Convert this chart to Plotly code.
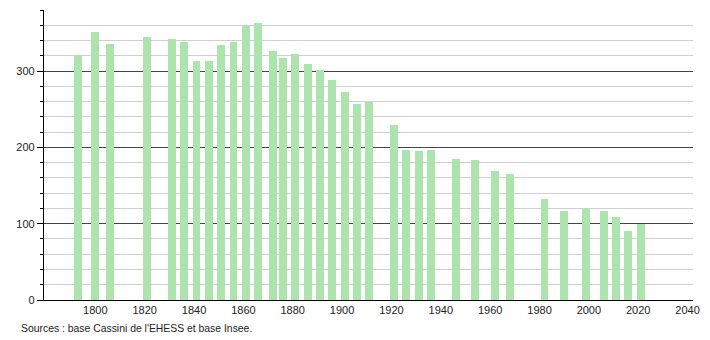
import plotly.graph_objects as go

years = [1793, 1800, 1806, 1821, 1831, 1836, 1841, 1846, 1851, 1856, 1861, 1866,
         1872, 1876, 1881, 1886, 1891, 1896, 1901, 1906, 1911, 1921, 1926, 1931,
         1936, 1946, 1954, 1962, 1968, 1982, 1990, 1999, 2006, 2011, 2016, 2021]
population = [321, 351, 335, 344, 342, 338, 313, 313, 334, 338, 359, 363,
              326, 317, 322, 309, 301, 288, 273, 257, 260, 229, 197, 195,
              196, 185, 184, 169, 165, 132, 117, 119, 116, 109, 91, 100]
x_ticks = [1800, 1820, 1840, 1860, 1880, 1900, 1920, 1940, 1960, 1980, 2000, 2020, 2040]
y_ticks = [0, 100, 200, 300]
source_text = "Sources : base Cassini de l'EHESS et base Insee."

fig = go.Figure()
fig.add_trace(go.Bar(
    x=years, y=population, width=3.2,
    marker=dict(color="#ade3ad", line=dict(width=0)),
    hoverinfo="x+y",
))

font = dict(family="Liberation Sans, Arial, sans-serif", size=11, color="#222")
fig.update_layout(
    width=710, height=340,
    margin=dict(l=44, r=10, t=10, b=40),
    paper_bgcolor="white", plot_bgcolor="white",
    showlegend=False, bargap=0, font=font,
    xaxis=dict(
        range=[1779.2, 2042.2], tickvals=x_ticks, ticktext=[str(t) for t in x_ticks],
        showgrid=False, zeroline=False, showline=True, linecolor="black", linewidth=1.2,
        ticks="", tickfont=font,
    ),
    yaxis=dict(
        range=[0, 380], tickvals=y_ticks, ticktext=[str(t) for t in y_ticks],
        showgrid=True, gridcolor="#444", gridwidth=1,
        zeroline=False, showline=True, linecolor="black", linewidth=1.2,
        ticks="outside", ticklen=6, tickcolor="black", tickfont=font,
        minor=dict(dtick=20, tick0=0, showgrid=True, gridcolor="#cfcfcf", gridwidth=1,
                   ticks="outside", ticklen=3, tickcolor="black"),
    ),
    annotations=[dict(
        text=source_text, xref="paper", yref="paper", x=-25/656, y=-21/290,
        xanchor="left", yanchor="top", showarrow=False,
        font=dict(family="Liberation Sans, Arial, sans-serif", size=10.4, color="#222"),
    )],
)

fig.write_html("out.html")
